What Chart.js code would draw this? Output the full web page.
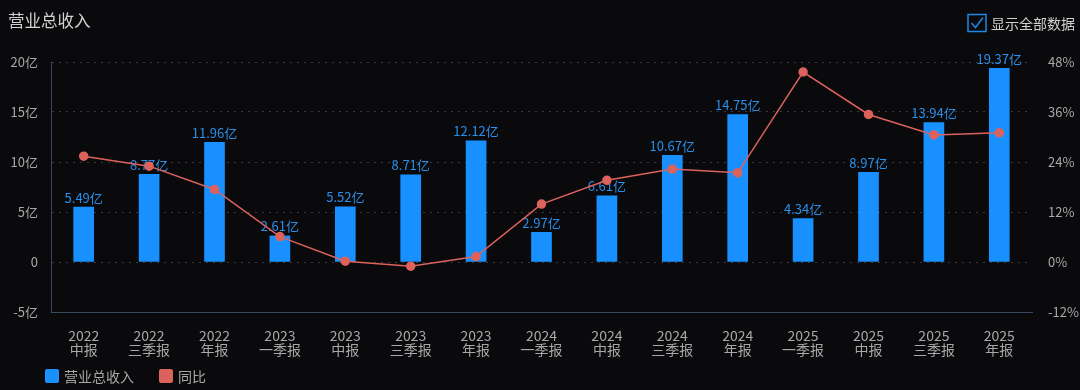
<!DOCTYPE html>
<html>
<head>
<meta charset="utf-8">
<script src="https://cdn.jsdelivr.net/npm/chart.js@4.4.0/dist/chart.umd.min.js"></script>
<style>
  html, body { margin: 0; padding: 0; background: #0a0a0c; }
  canvas { display: block; }
</style>
</head>
<body>
<canvas id="revenueChart" width="1080" height="390"></canvas>
<script>
var periods = [
  ['2022', '中报'], ['2022', '三季报'], ['2022', '年报'],
  ['2023', '一季报'], ['2023', '中报'], ['2023', '三季报'], ['2023', '年报'],
  ['2024', '一季报'], ['2024', '中报'], ['2024', '三季报'], ['2024', '年报'],
  ['2025', '一季报'], ['2025', '中报'], ['2025', '三季报'], ['2025', '年报']
];
var revenue = [5.49, 8.77, 11.96, 2.61, 5.52, 8.71, 12.12, 2.97, 6.61, 10.67, 14.75, 4.34, 8.97, 13.94, 19.37];
var yoy = [25.4, 23.0, 17.4, 6.1, 0.2, -1.0, 1.3, 13.9, 19.6, 22.3, 21.4, 45.6, 35.4, 30.5, 31.0];

var FONT = '"Noto Sans CJK SC", "Noto Sans", sans-serif';
var BAR_COLOR = '#1890ff';
var LINE_COLOR = '#dc625c';
var TEXT_COLOR = '#a8a8a8';

var decorations = {
  id: 'decorations',
  afterDatasetDraw: function(chart, args) {
    if (args.index !== 0) return;
    var ctx = chart.ctx;
    var meta = chart.getDatasetMeta(0);
    ctx.save();
    ctx.font = '13px ' + FONT;
    ctx.fillStyle = '#2a8fea';
    ctx.textAlign = 'center';
    ctx.textBaseline = 'bottom';
    meta.data.forEach(function(bar, i) {
      ctx.fillText(revenue[i].toFixed(2) + '亿', bar.x, bar.y - 3);
    });
    ctx.restore();
  },
  afterDraw: function(chart) {
    var ctx = chart.ctx;
    ctx.save();
    // title
    ctx.font = '16.5px ' + FONT;
    ctx.fillStyle = '#d2d2d2';
    ctx.textAlign = 'left';
    ctx.textBaseline = 'middle';
    ctx.fillText('营业总收入', 8, 21);

    // checkbox
    ctx.strokeStyle = '#1e88e5';
    ctx.lineWidth = 1.5;
    ctx.strokeRect(968, 14.5, 18, 17);
    ctx.beginPath();
    ctx.moveTo(971.5, 23);
    ctx.lineTo(975.5, 27.5);
    ctx.lineTo(983, 17.5);
    ctx.stroke();
    ctx.font = '14px ' + FONT;
    ctx.fillStyle = '#d0d0d0';
    ctx.fillText('显示全部数据', 991, 23.5);

    // legend
    var items = [
      { x: 45, color: BAR_COLOR, text: chart.data.datasets[0].label },
      { x: 159, color: LINE_COLOR, text: chart.data.datasets[1].label }
    ];
    items.forEach(function(it) {
      ctx.fillStyle = it.color;
      ctx.beginPath();
      ctx.roundRect(it.x, 369, 14, 14, 2);
      ctx.fill();
      ctx.fillStyle = TEXT_COLOR;
      ctx.font = '14px ' + FONT;
      ctx.fillText(it.text, it.x + 19, 376.5);
    });
    ctx.restore();
  }
};

new Chart(document.getElementById('revenueChart').getContext('2d'), {
  data: {
    labels: periods,
    datasets: [
      {
        type: 'bar',
        label: '营业总收入',
        data: revenue,
        backgroundColor: BAR_COLOR,
        barThickness: 20,
        yAxisID: 'y',
        order: 2
      },
      {
        type: 'line',
        label: '同比',
        data: yoy,
        borderColor: LINE_COLOR,
        backgroundColor: LINE_COLOR,
        borderWidth: 1.5,
        pointRadius: 4,
        pointHoverRadius: 4,
        tension: 0,
        yAxisID: 'y1',
        order: 1
      }
    ]
  },
  options: {
    responsive: false,
    animation: false,
    devicePixelRatio: 1,
    layout: { padding: { top: 62, bottom: 32, left: 0, right: 0 } },
    plugins: {
      legend: { display: false },
      tooltip: { enabled: false }
    },
    scales: {
      x: {
        grid: { display: false },
        border: { display: true, color: '#3b4862', width: 1 },
        ticks: {
          color: TEXT_COLOR,
          font: { family: FONT, size: 14, lineHeight: 1.05 },
          padding: 8,
          maxRotation: 0,
          autoSkip: false
        },
        afterFit: function(s) { s.height = 46; }
      },
      y: {
        position: 'left',
        min: -5,
        max: 20,
        grid: { color: '#3a3a3a', drawTicks: false, lineWidth: 1 },
        border: { display: true, color: '#3b4862', width: 1, dash: [2, 5] },
        ticks: {
          stepSize: 5,
          color: TEXT_COLOR,
          padding: 13,
          font: { family: FONT, size: 13 },
          callback: function(v) { return v === 0 ? '0' : v + '亿'; }
        },
        afterFit: function(s) { s.width = 51; }
      },
      y1: {
        position: 'right',
        min: -12,
        max: 48,
        grid: { display: false, drawTicks: false },
        border: { display: false },
        ticks: {
          stepSize: 12,
          color: TEXT_COLOR,
          padding: 16,
          font: { family: FONT, size: 13 },
          callback: function(v) { return v + '%'; }
        },
        afterFit: function(s) { s.width = 48; }
      }
    }
  },
  plugins: [decorations]
});
</script>
</body>
</html>
